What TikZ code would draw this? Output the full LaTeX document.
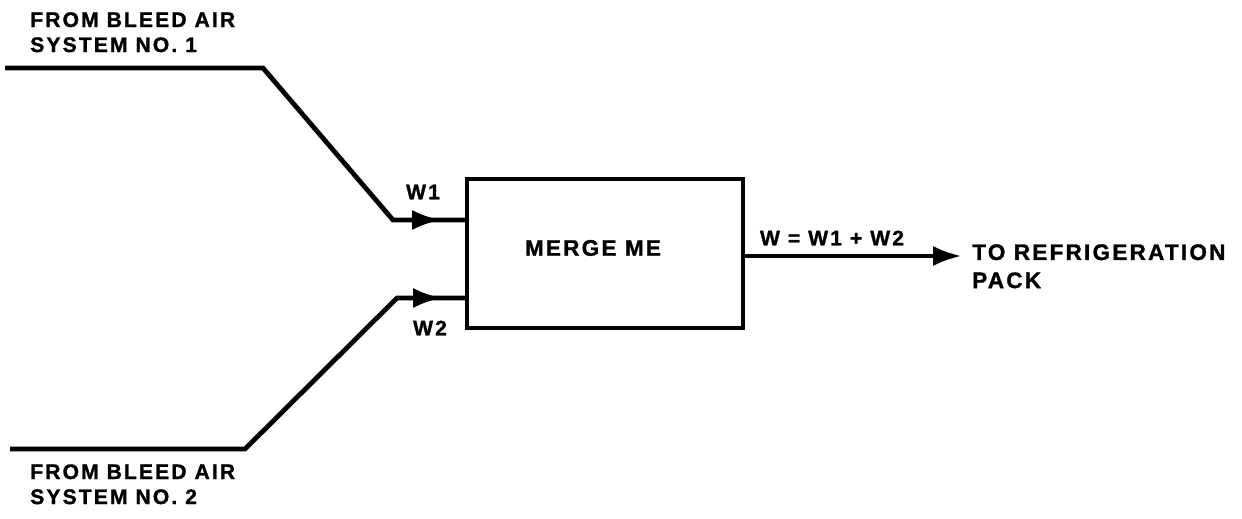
\documentclass[tikz,border=0pt]{standalone}
\usepackage{fontspec}
\setmainfont{Liberation Sans}
\newfontfamily\lblfont[LetterSpace=10,FakeBold=1.2]{Liberation Sans}
\usetikzlibrary{arrows.meta,positioning,calc}

\begin{document}
\begin{tikzpicture}[x=0.025cm,y=-0.025cm,
  flow/.style={line width=3.4pt},
  tipend/.style={-{Latex[length=0.72cm,width=0.5cm]}},
  box/.style={draw,line width=2.5pt,minimum width=6.9cm,minimum height=3.725cm},
  lbl/.style={font=\lblfont\bfseries\fontsize{15}{17.8}\selectfont,inner sep=0pt,align=left},
  biglbl/.style={lbl,font=\lblfont\bfseries\fontsize{16}{20}\selectfont}]
\useasboundingbox (0,0) rectangle (1242,519);
% ---- blocco di miscelazione ----
\node[box] (merge) at (605,253.5) {};
\node[biglbl] (mergetxt) at (593,248) {MERGE ME};
% ---- ingresso 1 ----
\coordinate (s1) at (5,68);
\coordinate (b1) at (263,68);
\coordinate (k1) at (393,220);
\coordinate (a1) at (441,220);
\draw[flow] (s1) -- (b1) -- (k1) -- (merge.west |- k1);
\draw[flow,tipend] (k1) -- (a1);
\node[lbl,anchor=north west] (src1) at (30,12) {FROM BLEED AIR\\SYSTEM NO. 1};
\node[lbl] (w1) at (423,192) {W1};
% ---- ingresso 2 ----
\coordinate (s2) at (10,449);
\coordinate (b2) at (245,449);
\coordinate (k2) at (397,298);
\coordinate (a2) at (442,298);
\draw[flow] (s2) -- (b2) -- (k2) -- (merge.west |- k2);
\draw[flow,tipend] (k2) -- (a2);
\node[lbl,anchor=north west] (src2) at (30,464) {FROM BLEED AIR\\SYSTEM NO. 2};
\node[lbl] (w2) at (430,328) {W2};
% ---- uscita ----
\coordinate (o1) at (962,256);
\draw[flow,tipend] (merge.east |- o1) -- (o1);
\node[lbl] (wsum) at (832,238) {W = W1 + W2};
\node[biglbl,anchor=north west] (dest) at (972,244) {TO REFRIGERATION\\PACK};
\end{tikzpicture}
\end{document}
